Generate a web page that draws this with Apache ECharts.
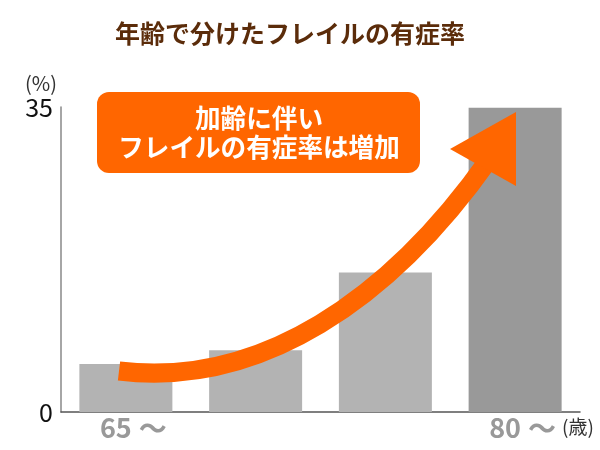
<!DOCTYPE html>
<html>
<head>
<meta charset="utf-8">
<script src="https://cdn.jsdelivr.net/npm/echarts@6/dist/echarts.min.js"></script>
<style>
  html, body { margin: 0; padding: 0; background: #fff; }
  #main { width: 600px; height: 450px; }
</style>
</head>
<body>
<div id="main"></div>
<script>
// 年齢区分ごとのフレイル有症率（%）
var ageGroups = ['65～69', '70～74', '75～79', '80～'];
var tickLabels = ['65', '', '', '80'];
var prevalence = [5.5, 7.1, 16.0, 34.9];
var barColors = ['#b3b3b3', '#b3b3b3', '#b3b3b3', '#999999'];

var FONT = '"Noto Sans CJK JP", "Noto Sans", sans-serif';

var dom = document.getElementById('main');
var myChart = echarts.init(dom, null, { renderer: 'canvas' });

var barData = [];
for (var i = 0; i < prevalence.length; i++) {
    barData.push({ value: prevalence[i], itemStyle: { color: barColors[i] } });
}

var option = {
    backgroundColor: '#fff',
    animation: false,
    title: {
        text: '年齢で分けたフレイルの有症率',
        left: 115,
        top: 21,
        padding: 0,
        textStyle: {
            color: '#5b2c0a',
            fontSize: 25,
            fontWeight: 'bold',
            fontFamily: FONT
        }
    },
    grid: {
        left: 61,
        right: 20,
        top: 107,
        bottom: 38
    },
    xAxis: {
        type: 'category',
        data: ageGroups,
        name: '(歳)',
        nameLocation: 'end',
        nameGap: -23,
        nameTextStyle: {
            color: '#333',
            fontSize: 19,
            fontFamily: FONT,
            align: 'left',
            verticalAlign: 'top',
            padding: [5, 0, 0, 0]
        },
        axisLine: { lineStyle: { color: '#555', width: 1.5 } },
        axisTick: { show: false },
        axisLabel: {
            interval: 0,
            margin: 2,
            padding: [0, 0, 0, 15],
            color: '#999',
            fontFamily: FONT,
            formatter: function (v, idx) {
                return tickLabels[idx] ? '{d|' + tickLabels[idx] + '}{t|～}' : '';
            },
            rich: {
                d: { color: '#999', fontSize: 27, fontWeight: 'bold', fontFamily: FONT },
                t: { color: '#999', fontSize: 28, fontWeight: 'bold', fontFamily: FONT, padding: [0, 0, 0, 7] }
            }
        }
    },
    yAxis: {
        type: 'value',
        min: 0,
        max: 35,
        interval: 35,
        name: '(%)',
        nameLocation: 'end',
        nameGap: 14,
        nameTextStyle: {
            color: '#333',
            fontSize: 20,
            fontFamily: FONT,
            align: 'right',
            padding: [0, 4, 0, 0]
        },
        axisLine: { show: true, lineStyle: { color: '#888', width: 1.5 } },
        axisTick: { show: false },
        splitLine: { show: false },
        axisLabel: {
            margin: 8,
            color: '#111',
            fontSize: 25,
            fontFamily: FONT
        }
    },
    series: [{
        type: 'bar',
        data: barData,
        barWidth: 93,
        silent: true
    }],
    graphic: [
        // 上昇を示す矢印
        {
            type: 'bezierCurve',
            z: 100,
            shape: {
                x1: 119, y1: 371,
                cpx1: 260, cpy1: 388,
                cpx2: 390, cpy2: 300,
                x2: 490, y2: 158
            },
            style: { stroke: '#ff6600', lineWidth: 19, fill: null }
        },
        {
            type: 'polygon',
            z: 101,
            shape: { points: [[450, 149], [516, 112], [516, 186]] },
            style: { fill: '#ff6600' }
        },
        // 吹き出し
        {
            type: 'rect',
            z: 102,
            shape: { x: 97, y: 92, width: 323, height: 81, r: 12 },
            style: { fill: '#ff6600' }
        },
        {
            type: 'text',
            z: 103,
            x: 259,
            y: 118,
            style: {
                text: '加齢に伴い',
                fill: '#fff',
                fontSize: 25.6,
                fontWeight: 'bold',
                fontFamily: FONT,
                textAlign: 'center',
                textVerticalAlign: 'middle'
            }
        },
        {
            type: 'text',
            z: 103,
            x: 259,
            y: 147,
            style: {
                text: 'フレイルの有症率は増加',
                fill: '#fff',
                fontSize: 25.6,
                fontWeight: 'bold',
                fontFamily: FONT,
                textAlign: 'center',
                textVerticalAlign: 'middle'
            }
        }
    ]
};

myChart.setOption(option);
</script>
</body>
</html>
